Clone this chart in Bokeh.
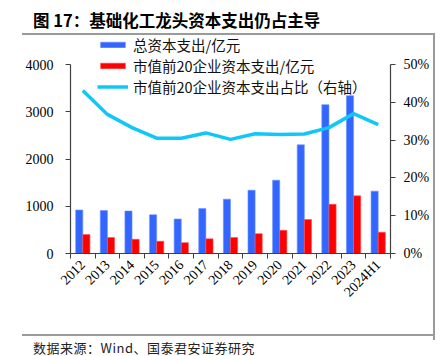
import math
from bokeh.plotting import figure
from bokeh.layouts import column, row
from bokeh.models import (Range1d, LinearAxis, FixedTicker, Legend, LegendItem, Div,
                          ColumnDataSource, PrintfTickFormatter)
from bokeh.transform import dodge
from bokeh.embed import file_html
from bokeh.resources import INLINE

years = ["2012", "2013", "2014", "2015", "2016", "2017", "2018", "2019", "2020",
         "2021", "2022", "2023", "2024H1"]
total_capex = [920, 910, 900, 820, 730, 950, 1150, 1340, 1550, 2300, 3150, 3340, 1320]
top20_capex = [400, 340, 300, 260, 230, 310, 340, 420, 490, 720, 1040, 1220, 450]
top20_share = [43.1, 36.8, 33.3, 30.5, 30.5, 31.9, 30.2, 31.7, 31.5, 31.6, 33.3, 37.0, 34.1]
left_ticks = [0, 1000, 2000, 3000, 4000]
right_ticks = [0, 10, 20, 30, 40, 50]

title_text = "图 17：基础化工龙头资本支出仍占主导"
source_text = "数据来源：Wind、国泰君安证券研究"

xpos = list(range(1, len(years) + 1))
src = ColumnDataSource(dict(x=xpos, total=total_capex, top=top20_capex, share=top20_share))

FRAME_H = 218
AX_H = 189
y_end = 4000 * FRAME_H / AX_H
r_end = 50 * FRAME_H / AX_H

CJK = "Noto Sans CJK SC"
SERIF = "Liberation Serif"
AXC = "#404040"
LINEC = "#9a9a9a"

p = figure(width=411, height=303, x_range=Range1d(0.5, 13.5), y_range=Range1d(0, y_end),
           output_backend="svg", toolbar_location=None,
           min_border_left=48, min_border_right=43, min_border_top=0, min_border_bottom=85,
           margin=(0, 0, 0, 22))
p.title = None
p.styles = {"border-top": f"2px solid {LINEC}", "border-bottom": f"2px solid {LINEC}"}
p.outline_line_color = None
p.grid.visible = False
p.background_fill_color = "white"
p.border_fill_color = "white"

p.extra_y_ranges = {"pct": Range1d(0, r_end)}

bw = 0.29
r1 = p.vbar(x=dodge("x", -0.145), top="total", width=bw, source=src,
            fill_color="#3366FF", line_color="#6E91FF", line_width=0.6)
r2 = p.vbar(x=dodge("x", 0.145), top="top", width=bw, source=src,
            fill_color="#FF0000", line_color="#FF5050", line_width=0.6)
r3 = p.line(x="x", y="share", source=src, y_range_name="pct",
            line_color="#10C8F8", line_width=3.5, line_join="round")

# x axis
xa = p.xaxis[0]
xa.ticker = FixedTicker(ticks=xpos, minor_ticks=[i + 0.5 for i in range(0, len(years) + 1)])
xa.major_label_overrides = {x: y for x, y in zip(xpos, years)}
xa.major_tick_out = 0
xa.major_tick_in = 0
xa.minor_tick_out = 5
xa.minor_tick_in = 0
xa.major_label_orientation = math.pi / 4
xa.major_label_text_font = SERIF
xa.major_label_text_font_size = "14px"
xa.major_label_text_color = "black"
xa.major_label_standoff = 4
xa.axis_line_color = AXC
xa.minor_tick_line_color = AXC
xa.axis_line_width = 1.2

# left axis
ya = p.yaxis[0]
ya.bounds = (0, 4000)
ya.ticker = FixedTicker(ticks=left_ticks, minor_ticks=[])
ya.major_tick_out = 5
ya.major_tick_in = 0
ya.minor_tick_out = 0
ya.minor_tick_in = 0
ya.major_label_text_font = SERIF
ya.major_label_text_font_size = "14px"
ya.major_label_text_color = "black"
ya.major_label_standoff = 12
ya.axis_line_color = AXC
ya.major_tick_line_color = AXC
ya.axis_line_width = 1.2

# right axis
ra = LinearAxis(y_range_name="pct", bounds=(0, 50),
                ticker=FixedTicker(ticks=right_ticks, minor_ticks=[]),
                formatter=PrintfTickFormatter(format="%d%%"))
ra.major_tick_out = 5
ra.major_tick_in = 0
ra.minor_tick_out = 0
ra.minor_tick_in = 0
ra.major_label_text_font = SERIF
ra.major_label_text_font_size = "14px"
ra.major_label_text_color = "black"
ra.major_label_standoff = 8
ra.axis_line_color = AXC
ra.major_tick_line_color = AXC
ra.axis_line_width = 1.2
p.add_layout(ra, "right")

legend = Legend(items=[LegendItem(label="总资本支出/亿元", renderers=[r1]),
                       LegendItem(label="市值前20企业资本支出/亿元", renderers=[r2]),
                       LegendItem(label="市值前20企业资本支出占比（右轴）", renderers=[r3])],
                location=(27, 156), orientation="vertical",
                background_fill_alpha=0, border_line_alpha=0,
                glyph_width=31, glyph_height=7, label_height=17, spacing=-2,
                padding=0, margin=0, label_standoff=5,
                label_text_font=CJK, label_text_font_size="14.5px", label_text_color="#111111")
p.add_layout(legend)

title_div = Div(
    text=f'<div style="padding-left:33px;padding-top:10px;font-family:\'{CJK}\';'
         f'font-size:16.5px;font-weight:bold;line-height:20px;'
         f'color:black;white-space:nowrap">{title_text}</div>',
    width=443, height=33, margin=0)
right_line = Div(text=f'<div style="width:2px;height:307px;background:{LINEC}"></div>',
                 width=2, height=307, margin=0)
source_div = Div(
    text=f'<div style="padding-left:33px;padding-top:1px;font-family:\'{CJK}\';'
         f'font-size:13px;line-height:13px;letter-spacing:0.5px;color:#222;'
         f'white-space:nowrap">{source_text}</div>',
    width=443, height=16, margin=0)

layout = column(title_div, row(p, right_line, spacing=0, margin=0),
                source_div, spacing=0, margin=0)

open("out.html", "w").write(file_html(layout, INLINE))
